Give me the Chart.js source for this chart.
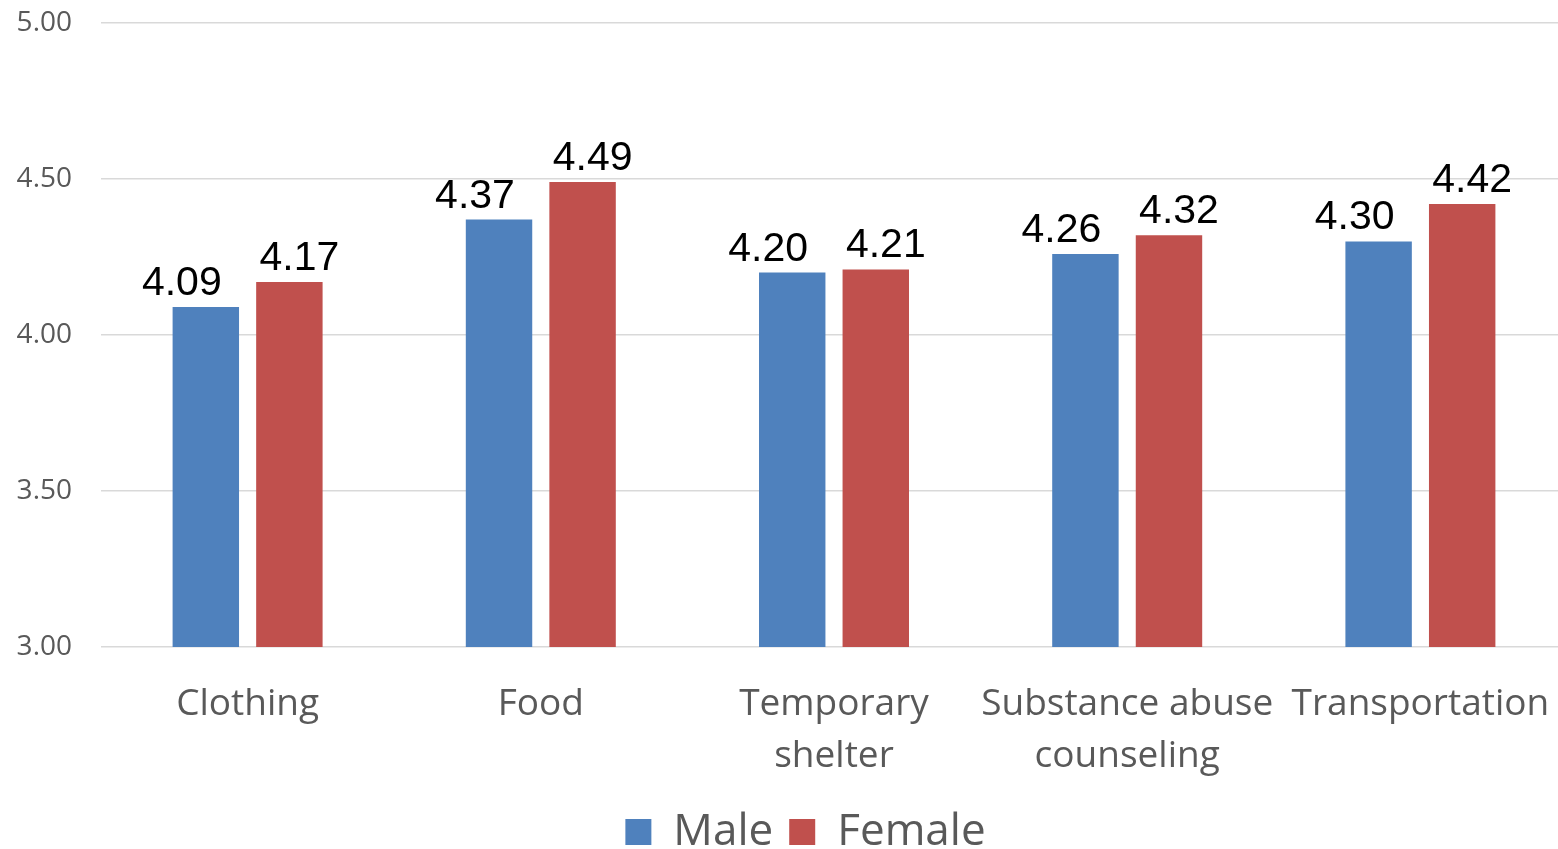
<!DOCTYPE html>
<html>
<head>
<meta charset="utf-8">
<script src="https://cdn.jsdelivr.net/npm/chart.js@4"></script>
<style>
  html, body { margin: 0; padding: 0; background: #fff; overflow: hidden; }
  /* the original plot runs slightly past the right edge of the image */
  #wrap { width: 1558px; height: 849px; overflow: hidden; }
</style>
</head>
<body>
<div id="wrap"><canvas id="barChart" width="1567" height="849"></canvas></div>
<script>
// data
const categories = [['Clothing'], ['Food'], ['Temporary', 'shelter'], ['Substance abuse', 'counseling'], ['Transportation']];
const maleValues = [4.09, 4.37, 4.20, 4.26, 4.30];
const femaleValues = [4.17, 4.49, 4.21, 4.32, 4.42];
const yTicks = [3.00, 3.50, 4.00, 4.50, 5.00];

const gray = '#595959';

// value labels above each bar (Excel nudges male labels left, female right)
const valueLabels = {
  id: 'valueLabels',
  afterDatasetsDraw(chart) {
    const ctx = chart.ctx;
    ctx.save();
    ctx.font = '41px "Liberation Sans", Arial, sans-serif';
    ctx.fillStyle = '#000';
    ctx.textAlign = 'center';
    ctx.textBaseline = 'alphabetic';
    chart.data.datasets.forEach((ds, di) => {
      const shift = di === 0 ? -24 : 10;
      chart.getDatasetMeta(di).data.forEach((bar, i) => {
        ctx.fillText(ds.data[i].toFixed(2), bar.x + shift, bar.y - 12);
      });
    });
    ctx.restore();
  }
};

// legend sits a bit right of centre and low in the original
const legendShift = {
  id: 'legendShift',
  afterLayout(chart) {
    const lg = chart.legend;
    lg.left += 22;
    lg.right += 22;
    lg.top += 15;
    lg.bottom += 15;
  }
};

const barCtx = document.getElementById('barChart').getContext('2d');
new Chart(barCtx, {
  type: 'bar',
  data: {
    labels: categories,
    datasets: [
      {
        label: 'Male',
        backgroundColor: '#4F81BD',
        data: maleValues,
        categoryPercentage: 0.57,
        barPercentage: 0.795
      },
      {
        label: 'Female',
        backgroundColor: '#C0504D',
        data: femaleValues,
        categoryPercentage: 0.57,
        barPercentage: 0.795
      }
    ]
  },
  options: {
    responsive: false,
    animation: false,
    layout: { padding: { top: 23, left: 0, right: 0, bottom: 0 } },
    plugins: {
      legend: {
        position: 'bottom',
        labels: {
          boxWidth: 26,
          boxHeight: 26,
          padding: 16,
          color: gray,
          font: { family: '"Open Sans", sans-serif', size: 44 }
        }
      },
      tooltip: { enabled: false }
    },
    scales: {
      y: {
        min: 3,
        max: 5,
        afterBuildTicks: (scale) => { scale.ticks = yTicks.map(v => ({ value: v })); },
        afterFit: (scale) => {
          scale.width = 101;
          scale.paddingTop = 0;
          scale.paddingBottom = 0;
        },
        border: { display: false },
        grid: { color: '#d9d9d9', lineWidth: 1.5, drawTicks: false },
        ticks: {
          padding: 29,
          color: gray,
          font: { family: '"Open Sans", sans-serif', size: 28 },
          callback: (v) => Number(v).toFixed(2)
        }
      },
      x: {
        afterFit: (scale) => { scale.height = 132; },
        border: { display: false },
        grid: { color: 'transparent', drawOnChartArea: false, drawTicks: true, tickLength: 24 },
        ticks: {
          padding: 8,
          color: gray,
          maxRotation: 0,
          autoSkip: false,
          font: { family: '"Open Sans", sans-serif', size: 37, lineHeight: 1.4 }
        }
      }
    }
  },
  plugins: [valueLabels, legendShift]
});
</script>
</body>
</html>
